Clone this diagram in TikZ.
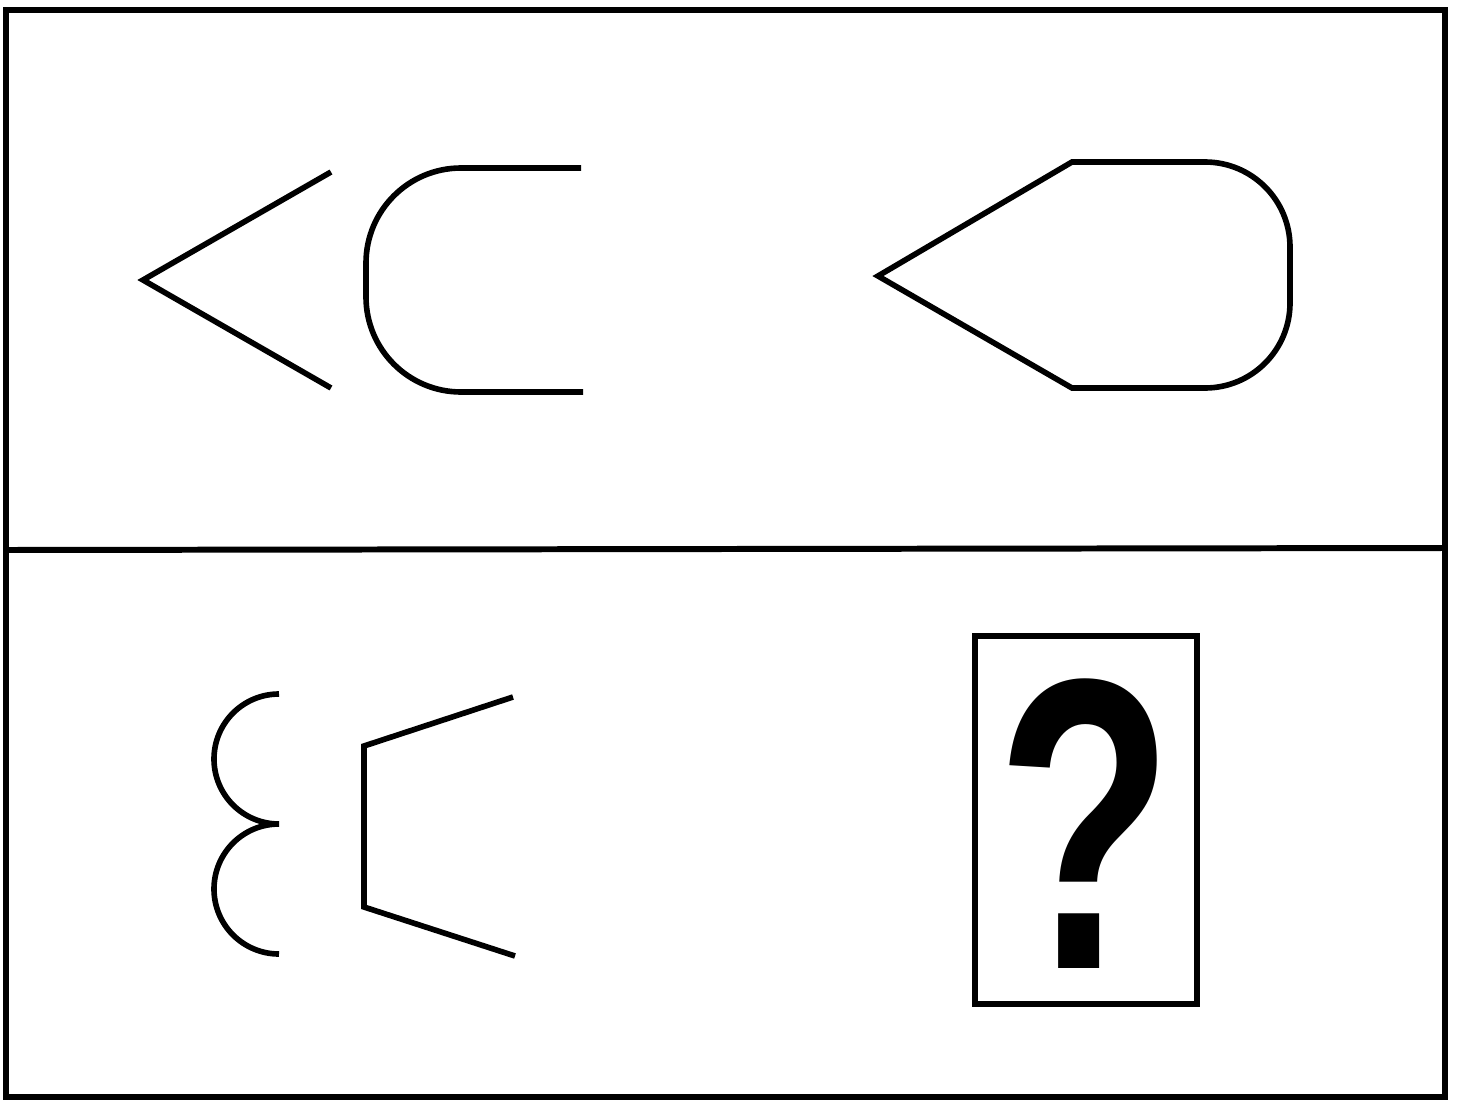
\documentclass[tikz,border=0pt]{standalone}
\usepackage{fontspec}
\newfontfamily\qfont{Liberation Sans}
\tikzset{shape line/.style={line width=1.6pt, line join=miter}}
\begin{document}
\begin{tikzpicture}[x=0.01cm, y=-0.01cm]
\useasboundingbox (0,0) rectangle (1457,1112);
\draw[line width=1.7pt] (6,10) rectangle (1445,1097);
\draw[line width=1.7pt] (6,550) -- (1445,548);
\draw[shape line] (331,172) -- (143,280) -- (331,388);
\draw[shape line, rounded corners=0.95cm] (581,168) -- (366,168) -- (366,392) -- (583,392);
\draw[shape line] (878,276) -- (1072,162) -- (1205,162) arc[start angle=270, end angle=360, radius=85]
  -- (1290,303) arc[start angle=0, end angle=90, radius=85] -- (1072,388) -- cycle;
\draw[shape line] (279,694) arc[start angle=270, end angle=90, radius=65] arc[start angle=270, end angle=90, radius=65];
\draw[shape line] (513,697) -- (364,746) -- (364,907) -- (515,956);
\draw[line width=1.7pt] (975,636) rectangle (1197,1004);
\node[inner sep=0pt, xscale=0.7] (qmark) at (1085,824) {\qfont\bfseries\fontsize{118}{118}\selectfont ?};
\end{tikzpicture}
\end{document}
